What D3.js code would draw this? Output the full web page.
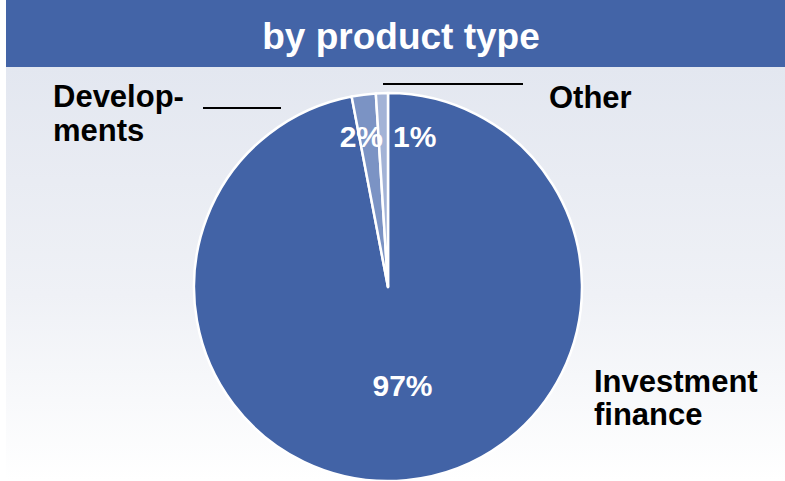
<!DOCTYPE html>
<html>
<head>
<meta charset="utf-8">
<script src="https://cdn.jsdelivr.net/npm/d3@7"></script>
<style>
  html, body { margin: 0; padding: 0; background: #ffffff; }
  svg { display: block; font-family: "Liberation Sans", Arial, sans-serif; }
</style>
</head>
<body>
<svg id="chart" width="785" height="481"></svg>
<script>
// Share of lending by product type (percent)
const categories = ["Investment finance", "Developments", "Other"];
const values = [97, 2, 1];
const labelLines = [["Investment", "finance"], ["Develop-", "ments"], ["Other"]];
const sliceColors = ["#4263a6", "#7b93c4", "#a3b3d6"];
const title = "by product type";

const W = 785, H = 481;
const svg = d3.select("#chart");

// Panel background: soft blue-grey fading to white
const defs = svg.append("defs");
const grad = defs.append("linearGradient")
  .attr("id", "bg").attr("x1", 0).attr("y1", 0).attr("x2", 0).attr("y2", 1);
grad.append("stop").attr("offset", "0%").attr("stop-color", "#e3e7f0");
grad.append("stop").attr("offset", "55%").attr("stop-color", "#eff1f6");
grad.append("stop").attr("offset", "100%").attr("stop-color", "#ffffff");

const panelX = 6;
const barH = 67;
svg.append("rect").attr("x", panelX).attr("y", barH)
  .attr("width", W - panelX).attr("height", H - barH).attr("fill", "url(#bg)");

// Title bar
svg.append("rect").attr("x", panelX).attr("y", 0)
  .attr("width", W - panelX).attr("height", barH).attr("fill", "#4364a7");
svg.append("text").attr("x", 401).attr("y", 49)
  .attr("text-anchor", "middle").attr("fill", "#ffffff")
  .attr("font-size", 37).attr("font-weight", "bold")
  .text(title);

// Pie
const cx = 388, cy = 287, r = 194;
const pie = d3.pie().sort(null).value(d => d)(values);
const arc = d3.arc().innerRadius(0).outerRadius(r);

const g = svg.append("g").attr("transform", `translate(${cx},${cy})`);
g.selectAll("path.slice").data(pie).join("path")
  .attr("class", "slice")
  .attr("d", arc)
  .attr("fill", (d, i) => sliceColors[i])
  .attr("stroke", "#ffffff")
  .attr("stroke-width", 2.5)
  .attr("stroke-linejoin", "round");

// Percentage labels inside the slices
const pct = d => d3.format(".0f")(d.data) + "%";
const pctG = g.append("g").attr("fill", "#ffffff")
  .attr("font-size", 30).attr("font-weight", "bold");

// Large slice: along its mid-angle, about half-way out
const big = pie[0];
const bigMid = (big.startAngle + big.endAngle) / 2;
pctG.append("text")
  .attr("x", Math.sin(bigMid) * r * 0.52 + 5)
  .attr("y", -Math.cos(bigMid) * r * 0.52 + 9)
  .attr("text-anchor", "middle")
  .text(pct(big));

// Thin slices: set either side of the 12 o'clock radius
const labY = -r * 0.722;
pctG.append("text")
  .attr("x", -5).attr("y", labY)
  .attr("text-anchor", "end")
  .text(pct(pie[1]));
pctG.append("text")
  .attr("x", 5).attr("y", labY)
  .attr("text-anchor", "start")
  .text(pct(pie[2]));

// Category labels and their leader lines
const catG = svg.append("g").attr("fill", "#000000")
  .attr("font-size", 31).attr("font-weight", "bold");

const catPos = [
  { x: 594, y: 392, lh: 33 },
  { x: 53, y: 107, lh: 34 },
  { x: 549, y: 108, lh: 34 }
];
categories.forEach((c, i) => {
  const t = catG.append("text").attr("x", catPos[i].x).attr("y", catPos[i].y);
  labelLines[i].forEach((ln, j) => {
    t.append("tspan").attr("x", catPos[i].x).attr("dy", j === 0 ? 0 : catPos[i].lh).text(ln);
  });
});

const leaders = [
  { x1: 203, x2: 281, y: 108 },
  { x1: 383, x2: 523, y: 84 }
];
svg.selectAll("line.leader").data(leaders).join("line")
  .attr("class", "leader")
  .attr("x1", d => d.x1).attr("x2", d => d.x2)
  .attr("y1", d => d.y).attr("y2", d => d.y)
  .attr("stroke", "#000000").attr("stroke-width", 2);
</script>
</body>
</html>
